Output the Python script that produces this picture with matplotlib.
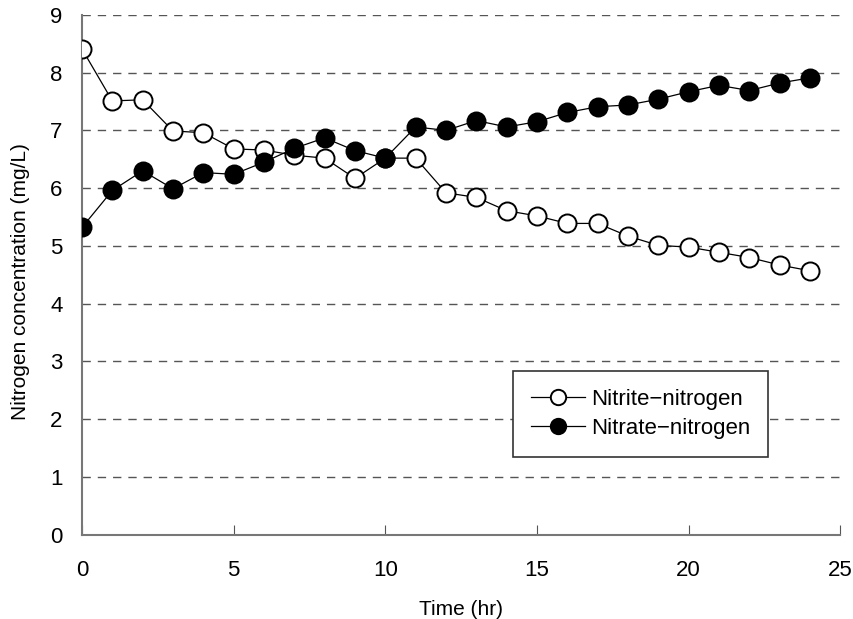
import matplotlib.pyplot as plt

plt.rcParams['font.family'] = ['Liberation Sans', 'DejaVu Sans']

time_hr = list(range(25))
nitrite = [8.41, 7.51, 7.53, 6.99, 6.96, 6.68, 6.66, 6.57, 6.52, 6.17, 6.52, 6.52,
           5.92, 5.84, 5.61, 5.52, 5.39, 5.39, 5.17, 5.01, 4.98, 4.89, 4.80, 4.67, 4.57]
nitrate = [5.32, 5.96, 6.30, 5.99, 6.27, 6.24, 6.45, 6.69, 6.87, 6.65, 6.52, 7.06,
           7.00, 7.17, 7.06, 7.15, 7.31, 7.41, 7.44, 7.54, 7.67, 7.78, 7.69, 7.82, 7.91]

fig = plt.figure(figsize=(8.54, 6.19), dpi=100)
ax = fig.add_axes([0.096, 0.136, 0.888, 0.840])

ax.plot(time_hr, nitrite, '-o', color='black', lw=0.9, ms=13,
        mfc='white', mec='black', mew=1.4, label='Nitrite\u2212nitrogen', zorder=3)
ax.plot(time_hr, nitrate, '-o', color='black', lw=0.9, ms=13,
        mfc='black', mec='black', mew=1.4, label='Nitrate\u2212nitrogen', zorder=3)

ax.set_xlim(0, 25)
ax.set_ylim(0, 9)
ax.set_xticks(range(0, 26, 5))
ax.set_yticks(range(0, 10))
for y in range(1, 10):
    ax.axhline(y, color='#555555', lw=1, ls=(0, (6, 5)), zorder=1)

for s in ['top', 'right']:
    ax.spines[s].set_visible(False)
for s in ['left', 'bottom']:
    ax.spines[s].set_color('#777777')
    ax.spines[s].set_linewidth(1.5)
ax.tick_params(axis='x', direction='in', length=7, color='#555555', labelsize=16, pad=18)
ax.tick_params(axis='y', direction='out', length=0, color='#555555', labelsize=16, pad=14)

ax.set_xlabel('Time (hr)', fontsize=15, labelpad=14)
ax.set_ylabel('Nitrogen concentration (mg/L)', fontsize=15)
ax.yaxis.set_label_coords(-0.068, 0.487)

leg = ax.legend(loc='lower left', bbox_to_anchor=(0.569, 0.150), fontsize=16,
                frameon=True, fancybox=False, edgecolor='#333333', framealpha=1,
                handlelength=2.4, borderpad=0.8, labelspacing=0.35, markerscale=0.85,
                borderaxespad=0, handletextpad=0.3)
leg.get_frame().set_linewidth(1.2)

fig.savefig('out.png', dpi=100)
